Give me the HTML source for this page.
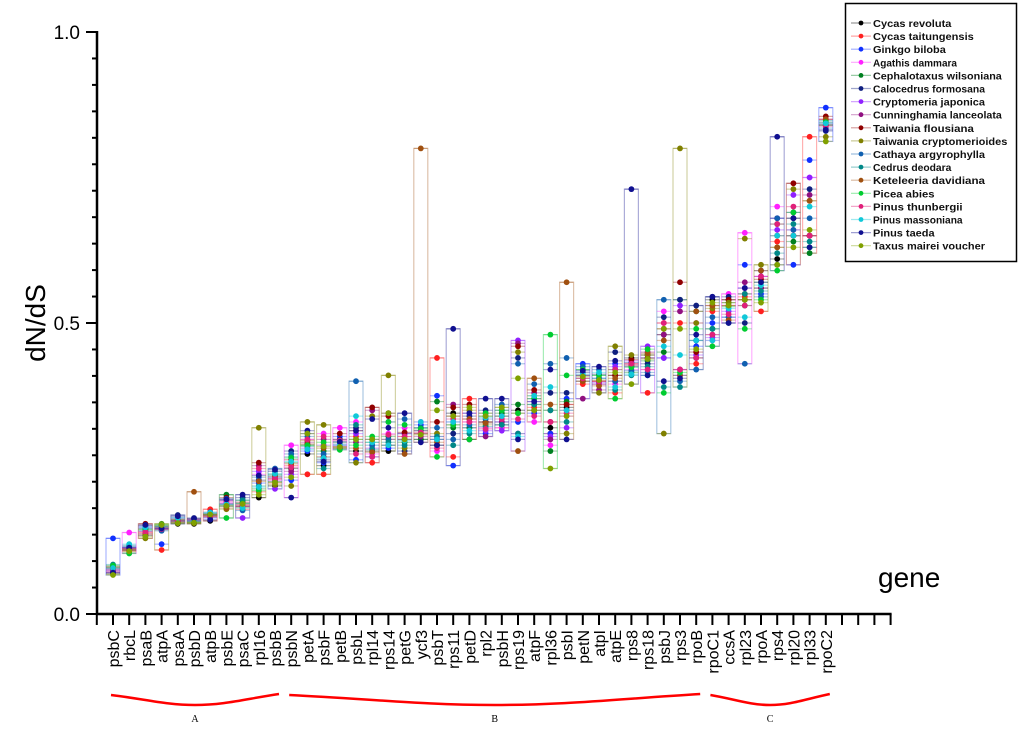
<!DOCTYPE html>
<html><head><meta charset="utf-8"><style>
html,body{margin:0;padding:0;background:#fff;}
svg{display:block;font-family:"Liberation Sans",sans-serif;}
</style></head><body>
<svg id="chart" width="1024" height="733" viewBox="0 0 1024 733">
<g id="axes"></g>
<g id="marks"></g>
<g id="legend"></g>
</svg>
<script>
const genes = ["psbC","rbcL","psaB","atpA","psaA","psbD","atpB","psbE","psaC","rpl16","psbB","psbN","petA","psbF","petB","psbL","rpl14","rps14","petG","ycf3","psbT","rps11","petD","rpl2","psbH","rps19","atpF","rpl36","psbI","petN","atpI","atpE","rps8","rps18","psbJ","rps3","rpoB","rpoC1","ccsA","rpl23","rpoA","rps4","rpl20","rpl33","rpoC2"];
const species = ["Cycas revoluta","Cycas taitungensis","Ginkgo biloba","Agathis dammara","Cephalotaxus wilsoniana","Calocedrus formosana","Cryptomeria japonica","Cunninghamia lanceolata","Taiwania flousiana","Taiwania cryptomerioides","Cathaya argyrophylla","Cedrus deodara","Keteleeria davidiana","Picea abies","Pinus thunbergii","Pinus massoniana","Pinus taeda","Taxus mairei voucher"];
const speciesColors = ["#000000","#ff2020","#1030ff","#ff20ff","#008020","#102080","#9020ff","#901080","#900000","#808000","#1060b0","#008888","#a05010","#00cc30","#e0207a","#10c8d8","#101090","#80a000"];
const yTicks = [0.0, 0.5, 1.0];
const yTickLabels = ["0.0","0.5","1.0"];
const values = [
[.070,.072,.130,.075,.080,.078,.072,.074,.082,.068,.076,.085,.080,.083,.077,.079,.071,.067],
[.110,.108,.115,.140,.105,.112,.114,.109,.113,.111,.118,.116,.110,.104,.112,.120,.114,.108],
[.135,.140,.150,.148,.145,.152,.142,.138,.155,.130,.147,.143,.137,.146,.141,.149,.153,.133],
[.145,.110,.120,.150,.152,.148,.146,.147,.150,.155,.143,.151,.149,.154,.146,.150,.147,.153],
[.155,.158,.160,.162,.157,.170,.164,.159,.161,.163,.166,.160,.158,.162,.161,.165,.168,.156],
[.155,.158,.160,.162,.157,.165,.161,.159,.163,.156,.162,.160,.210,.158,.161,.160,.164,.157],
[.160,.180,.165,.168,.170,.172,.166,.169,.171,.167,.175,.173,.168,.170,.169,.174,.162,.171],
[.185,.190,.195,.192,.205,.188,.190,.196,.200,.180,.198,.187,.182,.165,.194,.189,.197,.186],
[.185,.180,.190,.188,.195,.200,.165,.185,.192,.183,.178,.196,.187,.190,.185,.182,.205,.189],
[.200,.210,.225,.240,.215,.230,.245,.255,.260,.320,.235,.220,.228,.212,.250,.218,.238,.205],
[.220,.225,.235,.230,.240,.245,.215,.228,.232,.222,.250,.238,.236,.227,.233,.241,.248,.226],
[.250,.255,.230,.290,.260,.280,.240,.245,.265,.220,.275,.270,.258,.268,.252,.262,.200,.235],
[.275,.240,.280,.300,.290,.310,.285,.295,.292,.330,.305,.288,.298,.290,.300,.283,.315,.310],
[.255,.240,.260,.310,.280,.265,.290,.300,.270,.325,.275,.250,.285,.295,.305,.268,.262,.288],
[.285,.300,.305,.320,.295,.300,.290,.288,.310,.285,.292,.283,.287,.282,.298,.290,.296,.287],
[.280,.305,.265,.330,.300,.320,.310,.295,.315,.260,.400,.325,.285,.290,.275,.340,.315,.300],
[.280,.260,.270,.275,.295,.300,.285,.350,.355,.340,.290,.283,.278,.305,.270,.295,.335,.300],
[.280,.300,.285,.310,.305,.290,.330,.345,.340,.410,.300,.295,.290,.330,.308,.290,.320,.345],
[.310,.305,.300,.320,.295,.280,.310,.300,.312,.285,.335,.290,.275,.325,.305,.298,.345,.300],
[.300,.310,.325,.330,.300,.320,.310,.305,.315,.310,.315,.320,.800,.318,.312,.330,.295,.308],
[.290,.440,.375,.280,.365,.300,.305,.300,.330,.310,.320,.305,.295,.270,.285,.300,.290,.350],
[.345,.270,.255,.340,.320,.310,.330,.360,.355,.340,.300,.290,.325,.325,.335,.330,.490,.340],
[.300,.370,.320,.330,.320,.340,.345,.335,.360,.350,.325,.310,.335,.300,.330,.315,.345,.355],
[.330,.345,.310,.320,.340,.350,.315,.305,.330,.325,.335,.322,.328,.345,.318,.338,.370,.340],
[.325,.320,.330,.320,.345,.350,.315,.330,.340,.355,.360,.325,.340,.350,.335,.340,.370,.355],
[.350,.345,.330,.310,.360,.440,.470,.465,.460,.450,.430,.310,.280,.345,.335,.305,.300,.405],
[.350,.355,.345,.330,.360,.370,.365,.380,.385,.375,.395,.360,.405,.370,.340,.375,.365,.350],
[.320,.310,.310,.290,.280,.380,.305,.300,.330,.350,.430,.350,.360,.480,.330,.390,.420,.250],
[.355,.360,.370,.340,.365,.380,.320,.350,.360,.310,.440,.330,.570,.410,.345,.350,.300,.340],
[.400,.395,.430,.410,.420,.415,.405,.370,.410,.405,.425,.410,.400,.420,.405,.412,.418,.408],
[.395,.400,.405,.395,.410,.412,.398,.385,.400,.380,.420,.405,.392,.410,.400,.415,.425,.402],
[.410,.380,.430,.395,.420,.450,.425,.400,.410,.460,.400,.385,.405,.370,.420,.390,.435,.415],
[.440,.430,.425,.420,.415,.432,.435,.428,.437,.445,.418,.410,.426,.424,.430,.412,.730,.395],
[.445,.380,.440,.420,.435,.430,.460,.450,.440,.445,.415,.425,.448,.455,.420,.410,.410,.438],
[.480,.500,.440,.520,.450,.510,.440,.480,.490,.310,.540,.390,.470,.380,.500,.460,.400,.490],
[.420,.500,.410,.420,.540,.540,.530,.520,.570,.800,.400,.390,.410,.415,.420,.445,.405,.490],
[.440,.430,.460,.500,.520,.530,.445,.470,.450,.500,.420,.470,.520,.490,.440,.470,.480,.455],
[.540,.520,.500,.470,.490,.545,.475,.480,.530,.525,.510,.490,.530,.460,.480,.470,.545,.535],
[.540,.530,.510,.550,.535,.545,.520,.530,.540,.535,.510,.500,.505,.528,.515,.525,.500,.530],
[.540,.545,.600,.655,.530,.500,.560,.570,.550,.645,.430,.550,.540,.490,.530,.510,.560,.540],
[.560,.520,.550,.580,.570,.590,.580,.560,.575,.600,.545,.555,.590,.540,.580,.565,.570,.535],
[.610,.640,.680,.700,.670,.600,.660,.680,.650,.630,.680,.620,.630,.590,.670,.650,.820,.600],
[.680,.650,.600,.660,.640,.690,.720,.650,.740,.730,.660,.670,.650,.690,.700,.650,.680,.630],
[.650,.820,.780,.750,.620,.730,.750,.720,.650,.710,.680,.640,.710,.630,.650,.700,.630,.660],
[.840,.850,.870,.850,.840,.830,.845,.842,.855,.820,.835,.848,.850,.845,.838,.843,.832,.812]
];
const groups = [["A",0,10],["B",11,36],["C",37,44]];

const NS="http://www.w3.org/2000/svg";
function mk(tag, attrs, parent){const e=document.createElementNS(NS,tag);for(const k in attrs)e.setAttribute(k,attrs[k]);parent.appendChild(e);return e;}
const X0=113, DX=16.2, Y0=614, YH=582;
const xs = i => X0 + i*DX;
const ys = v => Y0 - v*YH;
const axes=document.getElementById('axes'), marks=document.getElementById('marks'), legend=document.getElementById('legend');

let yl=mk('line',{x1:97,y1:ys(1)-1,x2:97,y2:Y0+1,stroke:'#000','stroke-width':2.5},axes);


for(let k=0;k<=22;k++){const v=k*0.5/11;const major=(k%11===0);
  mk('line',{x1:major?86:92,y1:ys(v),x2:97,y2:ys(v),stroke:'#000','stroke-width':2},axes);}
yTicks.forEach((v,i)=>{const t=mk('text',{x:80,y:ys(v)+7,'text-anchor':'end','font-size':19},axes);t.textContent=yTickLabels[i];
  
  });
let yt=mk('text',{x:0,y:0,'font-size':28,'text-anchor':'middle',transform:'translate(45,323) rotate(-90)'},axes);yt.textContent='dN/dS';


let xl=mk('line',{x1:96,y1:Y0,x2:xs(48)+1,y2:Y0,stroke:'#000','stroke-width':2.5},axes);


for(let i=-1;i<=48;i++){mk('line',{x1:xs(i),y1:Y0,x2:xs(i),y2:Y0+11,stroke:'#000','stroke-width':2},axes);}
genes.forEach((g,i)=>{const t=mk('text',{x:0,y:0,'font-size':16,'text-anchor':'end',transform:`translate(${xs(i)+6},630) rotate(-90)`},axes);t.textContent=g;
  
  });
let xt=mk('text',{x:878,y:587,'font-size':28},axes);xt.textContent='gene';


groups.forEach(([lab,a,b])=>{const x1=xs(a)-2,x2=xs(b)+4,xm=(x1+x2)/2;
  const p=mk('path',{d:`M${x1},695 C${x1+(xm-x1)*0.4},699 ${xm-(xm-x1)*0.35},705 ${xm},705 C${xm+(x2-xm)*0.35},705 ${x2-(x2-xm)*0.4},699 ${x2},694`,fill:'none',stroke:'#f00','stroke-width':2.5},axes);
  
  
  const t=mk('text',{x:xm,y:722,'font-size':10,'text-anchor':'middle','font-family':'Liberation Serif, serif'},axes);t.textContent=lab;
  
  });

values.forEach((row,i)=>{
  const cx=xs(i);
  let mn=Infinity,mx=-Infinity,mxI=0;
  row.forEach((v,s)=>{if(v<mn)mn=v;if(v>mx){mx=v;mxI=s;}});
  const g=mk('g',{},marks);
  
  
  const box=mk('rect',{x:cx-7,y:ys(mx),width:14,height:ys(mn)-ys(mx),fill:'none',stroke:speciesColors[mxI],'stroke-opacity':0.35,'stroke-width':1.2},g);
  
  
  row.forEach((v,s)=>{
    mk('line',{x1:cx-7,y1:ys(v),x2:cx+7,y2:ys(v),stroke:speciesColors[s],'stroke-opacity':0.35,'stroke-width':1.2},g);
  });
  row.forEach((v,s)=>{
    const c=mk('circle',{cx:cx,cy:ys(v),r:2.9,fill:speciesColors[s]},g);
    
    
  });
});

const lb=mk('rect',{x:845.5,y:3.5,width:171,height:258,fill:'#fff',stroke:'#000','stroke-width':1.5},legend);


species.forEach((n,s)=>{const y=23+s*13.1;
  const e=mk('g',{},legend);
  
  
  mk('line',{x1:851,y1:y,x2:871,y2:y,stroke:speciesColors[s],'stroke-opacity':0.4,'stroke-width':1.2},e);
  mk('circle',{cx:861,cy:y,r:2.4,fill:speciesColors[s]},e);
  const t=mk('text',{x:873,y:y+4,'font-size':10.5,fill:'#111','font-weight':'bold','textLength':n.length*5.6,'lengthAdjust':'spacingAndGlyphs'},e);t.textContent=n;});
</script>
</body></html>
